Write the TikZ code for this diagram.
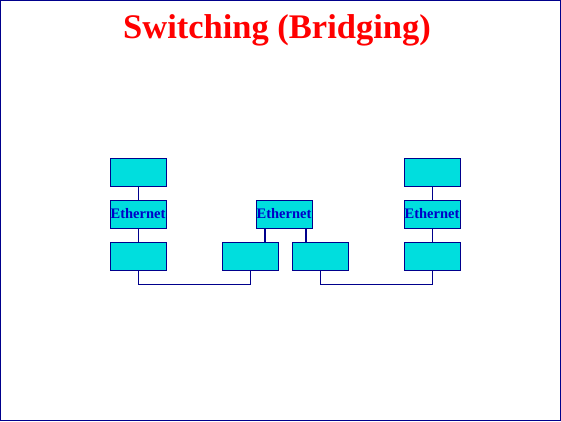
\documentclass[tikz,border=0pt]{standalone}
\usepackage{fontspec}
\setmainfont{Liberation Serif}
\usetikzlibrary{positioning}
\definecolor{framenavy}{RGB}{0, 0, 140}
\definecolor{boxcyan}{RGB}{0, 222, 222}
\definecolor{textblue}{RGB}{0, 0, 200}
\definecolor{titlered}{RGB}{255, 0, 0}

\begin{document}
\begin{tikzpicture}[
    x=1pt, y=-1pt,
    every node/.style={align=center},
    station/.style={rectangle, minimum width=56pt, minimum height=28pt, inner sep=0pt, draw=framenavy, fill=boxcyan, line width=1pt},
    segment/.style={station, text=textblue, font=\bfseries\fontsize{14.5}{14.5}\selectfont},
    link/.style={draw=framenavy, line width=1pt},
    uplink/.style={draw=framenavy, line width=2pt}
]

% Frame and title
\draw[framenavy, line width=1pt] (0.5,0.5) rectangle (560.5,420.5);
\node[text=titlered, font=\bfseries\fontsize{34.5}{34.5}\selectfont] (title) at (277,30) {Switching (Bridging)};

% Left LAN
\node[station] (left_top) at (138,172) {};
\node[segment] (left_eth) at (138,214) {Ethernet};
\node[station] (left_bot) at (138,256) {};

% Switch in the middle
\node[station] (mid_left) at (250,256) {};
\node[segment] (mid_eth) at (284,214) {Ethernet};
\node[station] (mid_right) at (320,256) {};

% Right LAN
\node[station] (right_top) at (432,172) {};
\node[segment] (right_eth) at (432,214) {\raisebox{2pt}{Ethernet}};
\node[station] (right_bot) at (432,256) {};

% Connectors
\draw[link] (left_top) -- (left_eth);
\draw[link] (left_eth) -- (left_bot);
\draw[link] (right_top) -- (right_eth);
\draw[link] (right_eth) -- (right_bot);
\draw[uplink] (mid_eth.south -| mid_left.north east) ++(-14,0) coordinate (up_a) -- (up_a |- mid_left.north);
\draw[uplink] (mid_eth.south -| mid_right.north west) ++(14,0) coordinate (up_b) -- (up_b |- mid_right.north);
\draw[link] (left_bot.south) -- ++(0,14) -| (mid_left.south);
\draw[link] (mid_right.south) -- ++(0,14) -| (right_bot.south);

\end{tikzpicture}
\end{document}
